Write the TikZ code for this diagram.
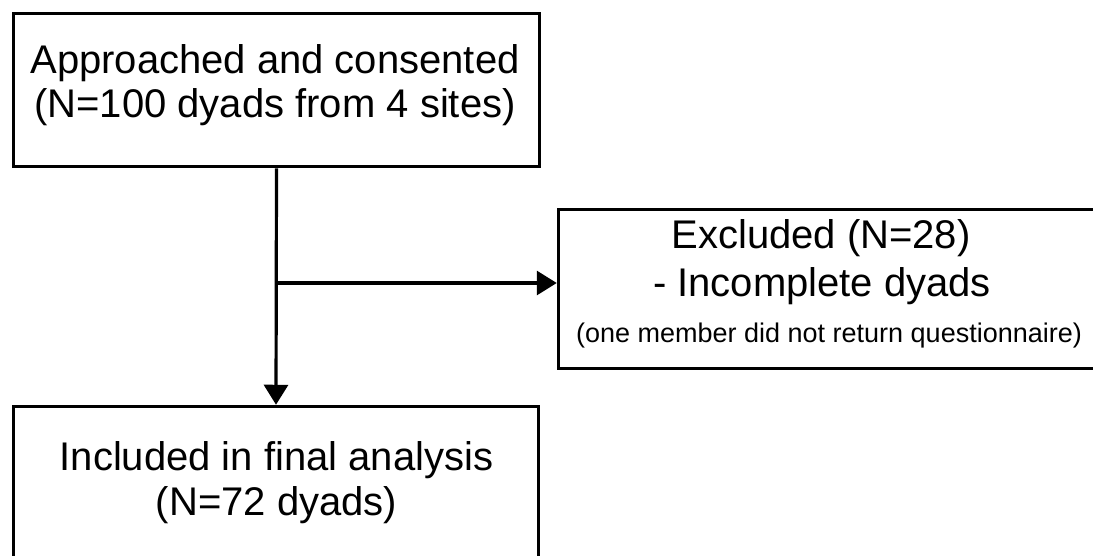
\documentclass[tikz,border=0pt]{standalone}
\usepackage{fontspec}
\setmainfont{Liberation Sans}
\usetikzlibrary{arrows.meta}
\tikzset{
  box/.style={draw=black, line width=3.5pt, fill=white, inner sep=0pt},
  big/.style={anchor=base, inner sep=0pt, font=\fontsize{40}{44}\selectfont},
  small/.style={anchor=base, inner sep=0pt, font=\fontsize{27}{30}\selectfont},
  conn/.style={draw=black, line width=3.2pt},
  arr/.style={conn, -{Triangle[length=20pt, width=24pt]}}
}
\begin{document}
\begin{tikzpicture}[x=1pt, y=-1pt]
\useasboundingbox (0,0) rectangle (1093,555);
\clip (0,0) rectangle (1093,555);
\fill[white] (0,0) rectangle (1093,555);
% boxes
\node[box, minimum width=526pt, minimum height=153pt] (top) at (276.5,90) {};
\node[box, minimum width=538pt, minimum height=159pt] (excl) at (827.5,289) {};
\node[box, minimum width=525pt, minimum height=160pt] (bot) at (276,486.5) {};
% texts
\node[big] (t1) at (275,73) {Approached and consented};
\node[big] (t2) at (275,117) {(N=100 dyads from 4 sites)};
\node[big] (e1) at (821,248) {Excluded (N=28)};
\node[big] (e2) at (822,296) {- Incomplete dyads};
\node[small] (e3) at (829,342) {(one member did not return questionnaire)};
\node[big] (b1) at (276.5,470) {Included in final analysis};
\node[big] (b2) at (276.5,515) {(N=72 dyads)};
% connectors
\coordinate (j) at (276.5,283);
\draw[arr] (top.south) -- (bot.north);
\draw[arr] (j) -- (j -| excl.west);
\end{tikzpicture}
\end{document}
